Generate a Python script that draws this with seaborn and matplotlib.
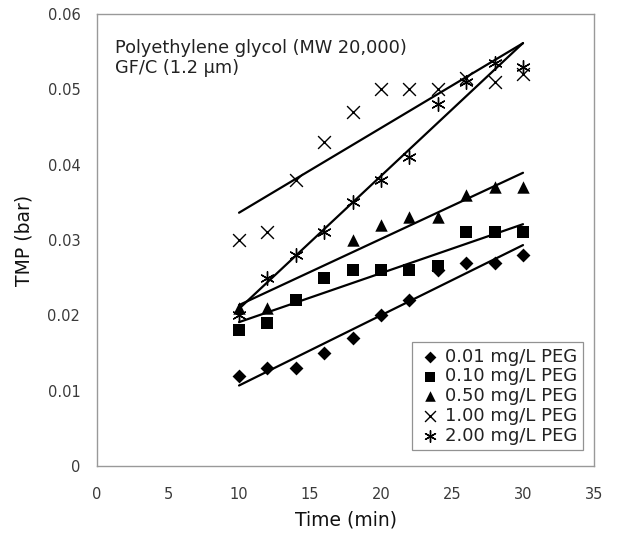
import numpy as np
import pandas as pd
import matplotlib
matplotlib.use("Agg")
import matplotlib.pyplot as plt
import seaborn as sns

time = [10, 12, 14, 16, 18, 20, 22, 24, 26, 28, 30]
peg_001 = [0.012, 0.013, 0.013, 0.015, 0.017, 0.020, 0.022, 0.026, 0.027, 0.027, 0.028]
peg_010 = [0.018, 0.019, 0.022, 0.025, 0.026, 0.026, 0.026, 0.0265, 0.031, 0.031, 0.031]
peg_050 = [0.021, 0.021, np.nan, np.nan, 0.030, 0.032, 0.033, 0.033, 0.036, 0.037, 0.037]
peg_100 = [0.030, 0.031, 0.038, 0.043, 0.047, 0.050, 0.050, 0.050, 0.0515, 0.051, 0.052]
peg_200 = [0.020, 0.025, 0.028, 0.031, 0.035, 0.038, 0.041, 0.048, 0.051, 0.0535, 0.053]
labels = ["0.01 mg/L PEG", "0.10 mg/L PEG", "0.50 mg/L PEG", "1.00 mg/L PEG", "2.00 mg/L PEG"]
annotation = ["Polyethylene glycol (MW 20,000)", "GF/C (1.2 \u03bcm)"]

sns.set_style("white")
plt.rcParams["font.family"] = ["DejaVu Sans"]

fig = plt.figure(figsize=(6.22, 5.35), dpi=100)
ax = fig.add_axes([0.156, 0.129, 0.799, 0.845])

series = [peg_001, peg_010, peg_050, peg_100, peg_200]
markers = ["D", "s", "^", "x", (6, 2, 0)]
sizes = [50, 80, 80, 85, 95]
lws = [0, 0, 0, 1.0, 1.0]

for vals in series:
    df = pd.DataFrame({"t": time, "v": vals})
    sns.regplot(data=df, x="t", y="v", ci=None, scatter=False, ax=ax,
                color="black", line_kws={"lw": 1.6})

for vals, m, s, lw, lab in zip(series, markers, sizes, lws, labels):
    df = pd.DataFrame({"t": time, "v": vals}).dropna()
    if lw:
        sns.scatterplot(data=df, x="t", y="v", marker=m, s=s, color="black",
                        linewidth=lw, ax=ax, label=lab, zorder=3)
    else:
        sns.scatterplot(data=df, x="t", y="v", marker=m, s=s, color="black",
                        edgecolor="black", linewidth=0, ax=ax, label=lab, zorder=3)

ax.set_xlim(0, 35)
ax.set_ylim(0, 0.06)
ax.set_xticks(range(0, 36, 5))
ax.set_yticks([0, 0.01, 0.02, 0.03, 0.04, 0.05, 0.06])
ax.set_yticklabels(["0", "0.01", "0.02", "0.03", "0.04", "0.05", "0.06"])
ax.tick_params(direction="in", length=4, width=0.8, colors="#999999",
               labelcolor="#3a3a3a", labelsize=10.5)
ax.tick_params(axis="x", pad=15)
ax.tick_params(axis="y", pad=12)
for sp in ax.spines.values():
    sp.set_color("#999999")
    sp.set_linewidth(1.0)

ax.set_xlabel("Time (min)", fontsize=13.5, color="#111111", labelpad=6)
ax.set_ylabel("TMP (bar)", fontsize=13.5, color="#111111", labelpad=10)

ax.text(0.036, 0.945, annotation[0] + "\n" + annotation[1], transform=ax.transAxes,
        fontsize=12.8, va="top", ha="left", color="#222222", linespacing=1.15)

leg = ax.legend(loc="lower right", bbox_to_anchor=(0.977, 0.035), frameon=True,
                fancybox=False, edgecolor="#777777", fontsize=13,
                handletextpad=0.2, handlelength=1.3, borderpad=0.3,
                labelspacing=0.1, borderaxespad=0, markerscale=0.85)
leg.get_frame().set_linewidth(0.9)
for t in leg.get_texts():
    t.set_color("#222222")

fig.savefig("out.png", dpi=100)
